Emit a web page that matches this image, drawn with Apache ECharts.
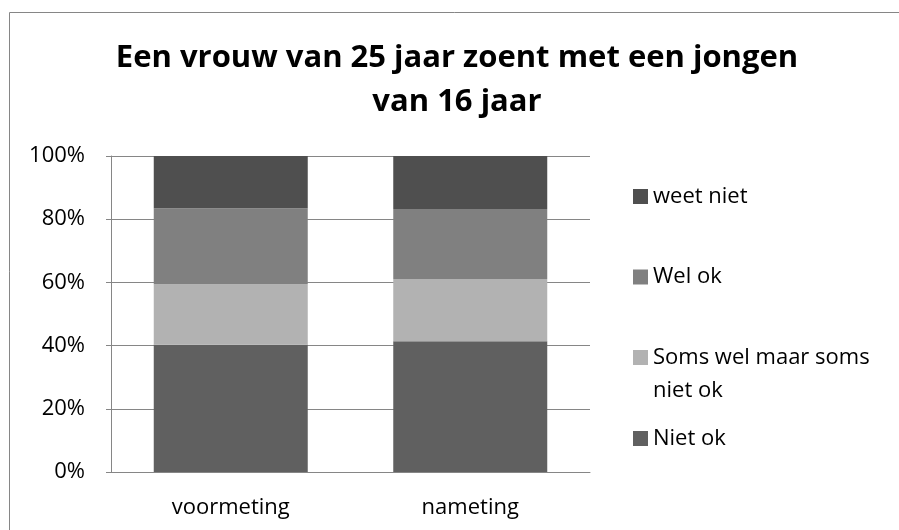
<!DOCTYPE html>
<html>
<head>
<meta charset="utf-8">
<script src="https://cdn.jsdelivr.net/npm/echarts@6/dist/echarts.min.js"></script>
<style>html,body{margin:0;padding:0;background:#fff;}#c{width:899px;height:530px;}</style>
</head>
<body>
<div id="c"></div>
<script>
var titleText = 'Een vrouw van 25 jaar zoent met een jongen\nvan 16 jaar';
var categories = ['voormeting', 'nameting'];
var yTicks = [0, 20, 40, 60, 80, 100];
var seriesNames = ['Niet ok', 'Soms wel maar soms niet ok', 'Wel ok', 'weet niet'];
var nietOk = [40.3, 41.4];
var somsWel = [19.1, 19.7];
var welOk = [24.1, 22.1];
var weetNiet = [16.5, 16.8];
var colors = ['#606060', '#b2b2b2', '#808080', '#4f4f4f'];

var FONT = 'Open Sans';
var chart = echarts.init(document.getElementById('c'), null, {renderer: 'canvas'});
var values = [nietOk, somsWel, welOk, weetNiet];

function legendOf(name, top) {
  return {
    data: [name], orient: 'vertical', left: 633, top: top, padding: 0,
    itemWidth: 15, itemHeight: 15, icon: 'rect', selectedMode: false,
    textStyle: {fontFamily: FONT, fontSize: 22, color: '#000', lineHeight: 33},
    formatter: function (n) { return n === 'Soms wel maar soms niet ok' ? '\nSoms wel maar soms\nniet ok' : n; }
  };
}

chart.setOption({
  animation: false,
  color: colors,
  title: {
    text: titleText, left: 457, textAlign: 'center', top: 36, padding: 0,
    textStyle: {fontFamily: FONT, fontSize: 31, fontWeight: 'bold', color: '#000', lineHeight: 44}
  },
  graphic: [{
    type: 'rect', shape: {x: 9.5, y: 12.5, width: 920, height: 540},
    style: {fill: 'none', stroke: '#868686', lineWidth: 1}, silent: true
  }],
  legend: [
    legendOf('weet niet', 180),
    legendOf('Wel ok', 260.5),
    legendOf('Soms wel maar soms niet ok', 308),
    legendOf('Niet ok', 422)
  ],
  grid: {left: 111, right: 309, top: 156, bottom: 58, containLabel: false},
  xAxis: {
    type: 'category', data: categories,
    axisLine: {show: true, lineStyle: {color: '#868686', width: 1}},
    axisTick: {show: false},
    axisLabel: {fontFamily: FONT, fontSize: 22, color: '#000', margin: 21, lineHeight: 30}
  },
  yAxis: {
    type: 'value', min: yTicks[0], max: yTicks[yTicks.length - 1], interval: 20,
    axisLine: {show: true, lineStyle: {color: '#868686', width: 1}},
    axisTick: {show: true, length: 5, lineStyle: {color: '#868686'}},
    splitLine: {show: true, lineStyle: {color: '#868686', width: 1}},
    axisLabel: {fontFamily: FONT, fontSize: 22, color: '#000', margin: 26, formatter: '{value}%'}
  },
  series: seriesNames.map(function (n, i) {
    return {
      name: n, type: 'bar', stack: 'total', data: values[i], barWidth: 154,
      itemStyle: {color: colors[i]}, emphasis: {disabled: true}
    };
  })
});
</script>
</body>
</html>
